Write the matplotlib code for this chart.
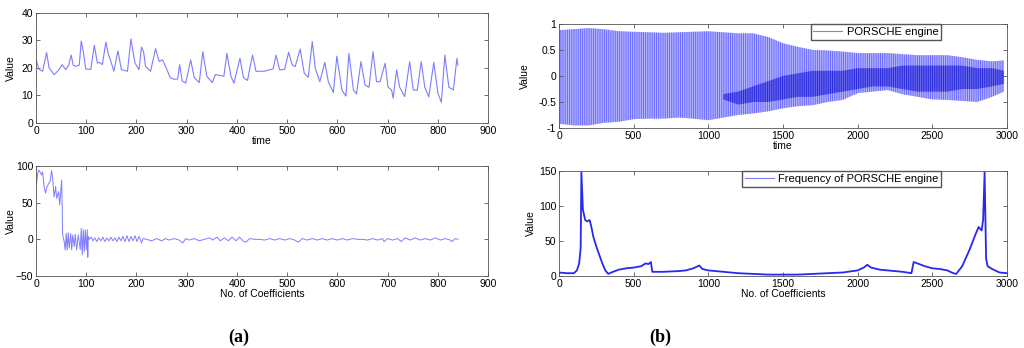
import numpy as np
import matplotlib
matplotlib.use("Agg")
import matplotlib.pyplot as plt

plt.rcParams["font.family"] = ["Liberation Sans", "DejaVu Sans"]
plt.rcParams["hatch.linewidth"] = 0.8

# ---------------- data ----------------
# (a) top: time series
series_t = [0, 6, 13, 18, 21, 26, 36, 44, 52, 59, 65, 70, 74, 79, 86, 90, 94, 99, 109, 116,
            122, 127, 132, 139, 144, 149, 155, 163, 170, 182, 189, 193, 197, 205, 210, 214, 218,
            228, 238, 245, 252, 262, 267, 275, 282, 286, 291, 298, 308, 315, 325, 332, 340, 351,
            357, 374, 380, 388, 394, 406, 413, 421, 431, 438, 454, 472, 478, 485, 495, 503, 510,
            516, 526, 534, 542, 550, 556, 565, 575, 582, 592, 599, 609, 617, 623, 632, 638, 647,
            655, 663, 671, 678, 685, 695, 701, 708, 711, 718, 724, 734, 744, 751, 759, 767, 774,
            782, 792, 800, 807, 814, 822, 831, 838, 840]
series_v = [23, 19.5, 18.8, 23, 25.6, 20, 17.6, 19, 21.2, 19.4, 21, 24.7, 21, 20.6, 21, 29.8, 26,
            19.6, 19.5, 28.2, 21.8, 22, 21.2, 29.4, 25, 22.4, 18.8, 26.2, 19.4, 18.8, 30.6, 26,
            21.8, 19.4, 27.6, 26, 20.6, 18.8, 27, 22.4, 23, 18.8, 16.5, 15.9, 16, 21.2, 15.3, 14.5,
            22.9, 16.5, 14.7, 25.9, 17, 14.7, 17.6, 17, 25.3, 17, 14.5, 23.5, 16.5, 15.5, 24.7,
            18.8, 18.8, 19.7, 24.7, 19.3, 19.5, 25.7, 21.1, 20.5, 26.9, 18.1, 16.6, 29.6, 19.9, 15,
            22, 15, 11.1, 24.3, 12, 9.8, 25.3, 12, 10.6, 22.3, 13.8, 13, 25.9, 15, 15, 21.7, 13,
            12, 9, 19.3, 13, 9.6, 22.3, 12, 11.9, 22.3, 13, 9.5, 22, 11, 7.5, 24.7, 13, 12, 23.5, 21]

# (a) bottom: coefficients
coef_n = [0, 1, 3, 5, 8, 11, 13, 16, 19, 21, 25, 28, 31, 33, 36, 39, 41, 45, 47, 49, 51, 52, 53,
          56, 58, 60, 62, 64, 66, 69, 71, 73, 76, 78, 81, 84, 88, 90, 92, 94, 96, 98, 100, 102,
          103, 104, 106, 110, 113, 117, 121, 125, 129, 133, 137, 141, 145, 149, 153, 157, 161,
          165, 169, 173, 177, 181, 185, 189, 193, 197, 201, 205, 208, 210, 213, 220, 230, 240,
          250, 258, 265, 275, 285, 292, 298, 305, 315, 325, 335, 345, 352, 360, 367, 375, 383,
          390, 398, 405, 412, 418, 425, 435, 445, 455, 465, 475, 485, 495, 505, 515, 522, 530,
          540, 550, 560, 570, 580, 590, 600, 610, 620, 630, 640, 650, 660, 670, 680, 690, 693,
          700, 710, 720, 727, 735, 745, 755, 765, 775, 785, 795, 805, 815, 825, 828, 835, 840]
coef_v = [83, 76, 88, 94.5, 92, 88, 92, 72, 63, 70, 76, 79, 94, 83, 58, 72, 56, 65, 47, 63, 81, 40,
          6, -3, -14.5, 8, -14.5, 9, -12, 8, -14.5, 6, -10, 7, -14.5, 6, -14, 15, -21, 13, -17, 13,
          -14.5, 13, -24.5, 4, 0, 3, -2, 2, -3, 2, -2, 3, -3, 2, -2, 3, -2, 2, -3, 3, -2, 4, -3, 5,
          -3, 4, -2, 5, -3, 4, -1, -5, 1, 0, -2, 1, -2, 1, -1, 1, -1, -5, 1, -1, 1, -2, 0, 2, -1,
          3, -2, 2, -2, 3, -2, 3, -2, -4, 1, 0, 0, -1, 1, -1, 1, -1, 1, -1, -4, 1, -1, 1, -1, 1,
          -1, 1, -1, 1, -1, 1, 0, 0, -1, 1, -1, 1, -3, 1, -1, 1, -3, 2, -1, 2, -1, 1, -1, 2, -1,
          1, -1, -3, 1, 0]

# (b) top: engine signal envelope (outer band and dense core)
env_t = [0, 100, 200, 300, 400, 500, 600, 700, 800, 900, 1000, 1100, 1200, 1300, 1400, 1500,
         1600, 1700, 1800, 1900, 2000, 2100, 2200, 2300, 2400, 2500, 2600, 2700, 2800, 2900, 2980]
env_hi = [0.88, 0.9, 0.92, 0.9, 0.86, 0.85, 0.84, 0.83, 0.84, 0.85, 0.86, 0.84, 0.82, 0.82, 0.75,
          0.63, 0.56, 0.5, 0.49, 0.47, 0.44, 0.44, 0.44, 0.42, 0.4, 0.4, 0.4, 0.36, 0.31, 0.28, 0.3]
env_lo = [-0.92, -0.95, -0.95, -0.9, -0.88, -0.83, -0.82, -0.82, -0.8, -0.82, -0.85, -0.8, -0.75,
          -0.72, -0.68, -0.62, -0.58, -0.56, -0.5, -0.46, -0.33, -0.3, -0.27, -0.35, -0.4, -0.45,
          -0.46, -0.48, -0.5, -0.4, -0.3]
core_t = [1100, 1200, 1300, 1400, 1500, 1600, 1700, 1800, 1900, 2000, 2100, 2200, 2300, 2400,
          2500, 2600, 2700, 2800, 2900, 2980]
core_lo = [-0.45, -0.55, -0.5, -0.5, -0.45, -0.4, -0.4, -0.35, -0.3, -0.25, -0.2, -0.2, -0.25,
           -0.3, -0.3, -0.3, -0.25, -0.25, -0.2, -0.15]
core_hi = [-0.35, -0.3, -0.2, -0.1, 0.0, 0.05, 0.1, 0.1, 0.1, 0.15, 0.15, 0.15, 0.2, 0.2, 0.2,
           0.2, 0.2, 0.15, 0.15, 0.1]

# (b) bottom: spectrum
freq_n = [0, 50, 100, 120, 135, 145, 150, 160, 175, 190, 205, 215, 230, 250, 270, 290, 310, 330,
          350, 400, 450, 500, 550, 580, 600, 615, 625, 700, 800, 850, 900, 940, 960, 1000, 1100,
          1200, 1300, 1400, 1500, 1600, 1700, 1800, 1900, 2000, 2040, 2065, 2090, 2150, 2250,
          2300, 2360, 2375, 2400, 2450, 2500, 2550, 2600, 2640, 2660, 2700, 2750, 2790, 2810,
          2830, 2840, 2850, 2860, 2870, 2900, 2950, 3000]
freq_v = [5, 4, 4, 8, 18, 40, 148, 95, 80, 78, 80, 72, 56, 42, 30, 18, 8, 3, 5, 9, 11, 12, 14, 18,
          17, 20, 6, 6, 7, 8, 11, 15, 10, 8, 6, 4, 3, 2, 2, 2, 3, 4, 5, 8, 12, 16, 12, 9, 7, 6, 4,
          20, 18, 14, 11, 10, 8, 4, 3, 14, 38, 60, 70, 65, 80, 148, 25, 14, 10, 5, 4]


def style_axes(ax):
    for s in ax.spines.values():
        s.set_color("#555555")
        s.set_linewidth(0.6)
    ax.tick_params(direction="in", top=True, right=True, length=3, width=0.6,
                   labelsize=7.5, pad=2, color="#555555")


fig = plt.figure(figsize=(10.24, 3.48), dpi=100)
axes = dict()
axes["a_top"] = fig.add_axes([0.0352, 0.6466, 0.4414, 0.3161])
axes["a_bot"] = fig.add_axes([0.0352, 0.2069, 0.4414, 0.3161])
axes["b_top"] = fig.add_axes([0.5459, 0.6322, 0.4375, 0.2989])
axes["b_bot"] = fig.add_axes([0.5459, 0.2069, 0.4375, 0.3017])

line_col = "#7d7dff"

# ....... (a) time series .......
ax = axes["a_top"]
ax.plot(series_t, series_v, color=line_col, lw=0.8)
ax.set_xlim(0, 900)
ax.set_ylim(0, 40)
ax.set_xticks(range(0, 901, 100))
ax.set_yticks(range(0, 41, 10))
ax.set_xlabel("time", fontsize=7.5, labelpad=0)
ax.set_ylabel("Value", fontsize=7.5, labelpad=4)
style_axes(ax)

# ....... (a) coefficients .......
ax = axes["a_bot"]
ax.plot(coef_n, coef_v, color=line_col, lw=0.7)
ax.set_xlim(0, 900)
ax.set_ylim(-50, 100)
ax.set_xticks(range(0, 901, 100))
ax.set_yticks([-50, 0, 50, 100])
ax.set_xlabel("No. of Coefficients", fontsize=7.5, labelpad=0)
ax.set_ylabel("Value", fontsize=7.5, labelpad=0)
style_axes(ax)

# ....... (b) engine signal .......
ax = axes["b_top"]
ax.fill_between(env_t, env_lo, env_hi, facecolor="#cdcdff", edgecolor="#6c6cff",
                hatch="|" * 9, lw=0)
ax.fill_between(core_t, core_lo, core_hi, facecolor="#6262f2", edgecolor="#1c1cd4",
                hatch="|" * 9, lw=0, alpha=0.75)
ax.plot([], [], color=line_col, lw=0.8, label="PORSCHE engine")
ax.set_xlim(0, 3000)
ax.set_ylim(-1, 1)
ax.set_xticks(range(0, 3001, 500))
ax.set_yticks([-1, -0.5, 0, 0.5, 1])
ax.set_yticklabels(["-1", "-0.5", "0", "0.5", "1"])
ax.set_xlabel("time", fontsize=7.5, labelpad=0)
ax.set_ylabel("Value", fontsize=7.5, labelpad=6)
ax.legend(loc="upper right", bbox_to_anchor=(0.853, 1.0), borderaxespad=0, fontsize=8,
          fancybox=False, edgecolor="#555555", framealpha=1, handlelength=2.6,
          borderpad=0.25, handletextpad=0.4)
style_axes(ax)

# ....... (b) spectrum .......
ax = axes["b_bot"]
ax.plot(freq_n, freq_v, color="#2828f0", lw=1.3, label="Frequency of PORSCHE engine")
ax.set_xlim(0, 3000)
ax.set_ylim(0, 150)
ax.set_xticks(range(0, 3001, 500))
ax.set_yticks([0, 50, 100, 150])
ax.set_xlabel("No. of Coefficients", fontsize=7.5, labelpad=0)
ax.set_ylabel("Value", fontsize=7.5, labelpad=2)
leg = ax.legend(loc="upper right", bbox_to_anchor=(0.853, 1.0), borderaxespad=0, fontsize=8,
                fancybox=False, edgecolor="#555555", framealpha=1, handlelength=2.6,
                borderpad=0.25, handletextpad=0.4)
leg.get_lines()[0].set_linewidth(0.8)
leg.get_lines()[0].set_color(line_col)
style_axes(ax)

# panel labels
fig.text(239 / 1024, 1 - 337 / 348, "(a)", ha="center", va="center", fontsize=13,
         fontweight="bold", family="Liberation Serif")
fig.text(660 / 1024, 1 - 337 / 348, "(b)", ha="center", va="center", fontsize=13,
         fontweight="bold", family="Liberation Serif")

fig.savefig("out.png", dpi=100)
